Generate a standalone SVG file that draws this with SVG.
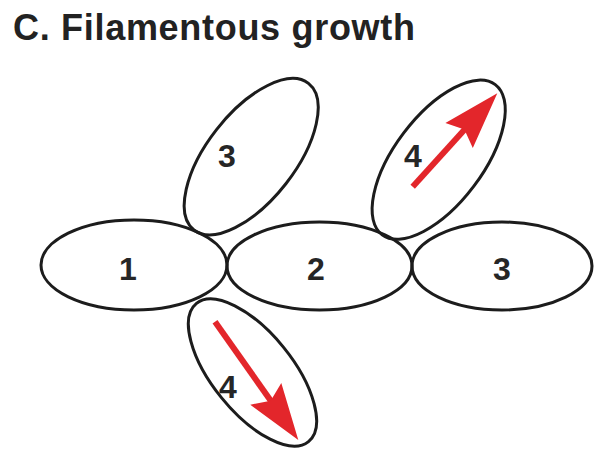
<svg xmlns="http://www.w3.org/2000/svg" width="598" height="457" viewBox="0 0 598 457">
  <style>
    .cell { fill: none; stroke: #1c1c1c; stroke-width: 3; }
    .num { font-family: "Liberation Sans", Arial, sans-serif; font-weight: bold; font-size: 32px; fill: #262626; text-anchor: middle; }
    .title { font-family: "Liberation Sans", Arial, sans-serif; font-weight: bold; font-size: 36px; fill: #222; }
    .shaft { stroke: #e3262b; stroke-width: 6; stroke-linecap: butt; fill: none; }
    .head { fill: #e3262b; stroke: none; }
  </style>
  <rect width="598" height="457" fill="#ffffff"/>
  <text class="title" x="13" y="40" textLength="402" lengthAdjust="spacing">C. Filamentous growth</text>

  <g id="cell-1">
    <ellipse class="cell" cx="134" cy="265" rx="93" ry="45"/>
    <text class="num" x="128" y="280">1</text>
  </g>
  <g id="cell-2">
    <ellipse class="cell" cx="319.5" cy="266" rx="92.5" ry="44"/>
    <text class="num" x="316" y="280">2</text>
  </g>
  <g id="cell-3-right">
    <ellipse class="cell" cx="502" cy="266" rx="90" ry="44"/>
    <text class="num" x="502" y="280">3</text>
  </g>
  <g id="cell-3-top">
    <ellipse class="cell" cx="0" cy="0" rx="93" ry="44" transform="translate(251.2 156.7) rotate(-52)"/>
    <text class="num" x="227" y="167">3</text>
  </g>
  <g id="cell-4-top">
    <ellipse class="cell" cx="0" cy="0" rx="94" ry="44" transform="translate(438.7 159.7) rotate(-53)"/>
    <text class="num" x="413" y="167">4</text>
  </g>
  <g id="cell-4-bottom">
    <ellipse class="cell" cx="0" cy="0" rx="89" ry="40" transform="translate(252.5 372.5) rotate(51)"/>
    <text class="num" x="228" y="398">4</text>
  </g>

  <g id="growth-arrows">
    <line class="shaft" x1="412.7" y1="186.7" x2="466" y2="128"/>
    <polygon class="head" points="497.3,93.3 472.8,147.9 464.4,129.6 445.4,123.1"/>
    <line class="shaft" x1="215" y1="321.7" x2="272" y2="402.5"/>
    <polygon class="head" points="298.3,440 250.3,404.7 270.7,400.7 281.3,382.9"/>
  </g>
</svg>
